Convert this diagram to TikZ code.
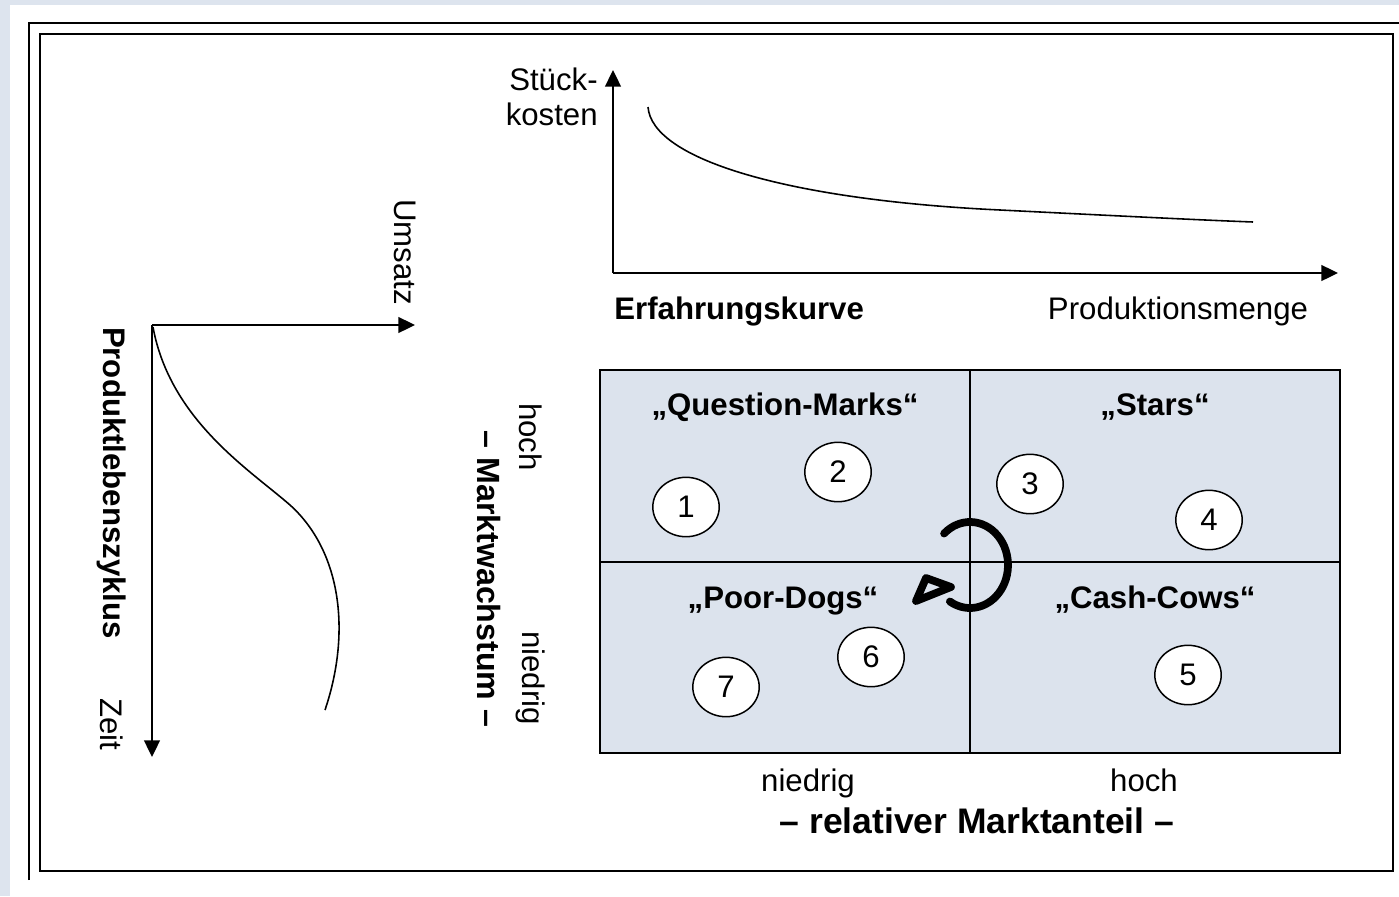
\documentclass[tikz,border=0pt]{standalone}
\usepackage{fontspec}
\setmainfont{Liberation Sans}
\usetikzlibrary{arrows.meta,shapes.geometric}
\definecolor{pagebg}{RGB}{221,228,238}
\definecolor{cellfill}{RGB}{220,227,237}

\begin{document}
\begin{tikzpicture}[x=0.02cm,y=-0.02cm,
  txt/.style={font=\fontsize{17.75}{20}\selectfont, inner sep=0pt},
  btxt/.style={font=\fontsize{17.75}{20}\selectfont\bfseries, inner sep=0pt},
  axisarrow/.style={line width=1.1pt, -{Triangle[length=9.5pt,width=9pt]}},
  curveline/.style={line width=0.9pt},
  num/.style={ellipse, draw, line width=0.85pt, fill=white,
    minimum width=37.8pt, minimum height=33.8pt, inner sep=0pt,
    font=\fontsize{17.75}{20}\selectfont},
  cellline/.style={line width=1.1pt},
  turn/.style={line width=4.4pt},
]
\useasboundingbox (0,0) rectangle (1399,896);

% page and frames
\fill[pagebg] (0,0) rectangle (1399,896);
\fill[white] (10,5) rectangle (1399,896);
\draw[line width=0.9pt] (29,880) -- (29,23) -- (1399,23);
\draw[line width=1.3pt] (40,34) rectangle (1393,871);

% ---------- experience curve ----------
\coordinate (to) at (613,273);
\coordinate (tx) at (1338,273);
\coordinate (ty) at (613,70);
\draw[axisarrow] (to) -- (tx);
\draw[axisarrow] (to) -- (ty);
\draw[curveline] (648,107) .. controls (652,160) and (790,200) .. (1000,210)
                 .. controls (1120,216) and (1200,220) .. (1253,222);
\node[txt, anchor=east, align=right] (stueck) at (598,97) {Stück-\\kosten};
\node[btxt, anchor=base west] (erf) at (614,319) {Erfahrungskurve};
\node[txt, anchor=base] (menge) at (1178,319) {Produktionsmenge};

% ---------- product life cycle ----------
\coordinate (lo) at (152,325);
\coordinate (lx) at (415,325);
\coordinate (ly) at (152,757);
\draw[axisarrow] (lo) -- (lx);
\draw[axisarrow] (lo) -- (ly);
\draw[curveline] (153,327) .. controls (170,420) and (250,470) .. (290,505)
                 .. controls (340,550) and (352,630) .. (325,710);
\node[txt, rotate=-90] (umsatz) at (405,252) {Umsatz};
\node[btxt, rotate=-90] (plz) at (112,483) {Produktlebenszyklus};
\node[txt, rotate=-90] (zeit) at (112,724) {Zeit};

% ---------- portfolio matrix ----------
\fill[cellfill] (600,370) rectangle (1340,753);
\draw[cellline] (600,370) rectangle (1340,753);
\draw[line width=0.9pt] (970,370) -- (970,753);
\draw[line width=0.9pt] (600,562) -- (1340,562);

\node[btxt, anchor=base] (qm) at (785,415) {„Question-Marks“};
\node[btxt, anchor=base] (st) at (1155,415) {„Stars“};
\node[btxt, anchor=base] (pd) at (783,608) {„Poor-Dogs“};
\node[btxt, anchor=base] (cc) at (1155,608) {„Cash-Cows“};

\node[num] (n1) at (686,507) {1};
\node[num] (n2) at (838,472) {2};
\node[num] (n3) at (1030,484) {3};
\node[num] (n4) at (1209,520) {4};
\node[num] (n5) at (1188,675) {5};
\node[num] (n6) at (871,657) {6};
\node[num] (n7) at (726,687) {7};

% rotation arrow between the quadrants
\draw[turn, line cap=round]
  (970,565) ++(-133:38 and 43) arc[start angle=-133, end angle=122, x radius=38, y radius=43];
\draw[turn, line join=round] (926,578) -- (951,587) -- (916,601) -- cycle;

% axis labels
\node[txt, rotate=-90] (gh) at (531,437) {hoch};
\node[txt, rotate=-90] (gn) at (531,678) {niedrig};
\node[font=\fontsize{18.3}{21}\selectfont\bfseries, inner sep=0pt, rotate=-90] (mw) at (489,579) {– Marktwachstum –};
\node[txt, anchor=base] (an) at (808,791) {niedrig};
\node[txt, anchor=base] (ah) at (1144,791) {hoch};
\node[font=\fontsize{20.2}{23}\selectfont\bfseries, inner sep=0pt, anchor=base] (ma) at (977,833) {– relativer Marktanteil –};
\end{tikzpicture}
\end{document}
